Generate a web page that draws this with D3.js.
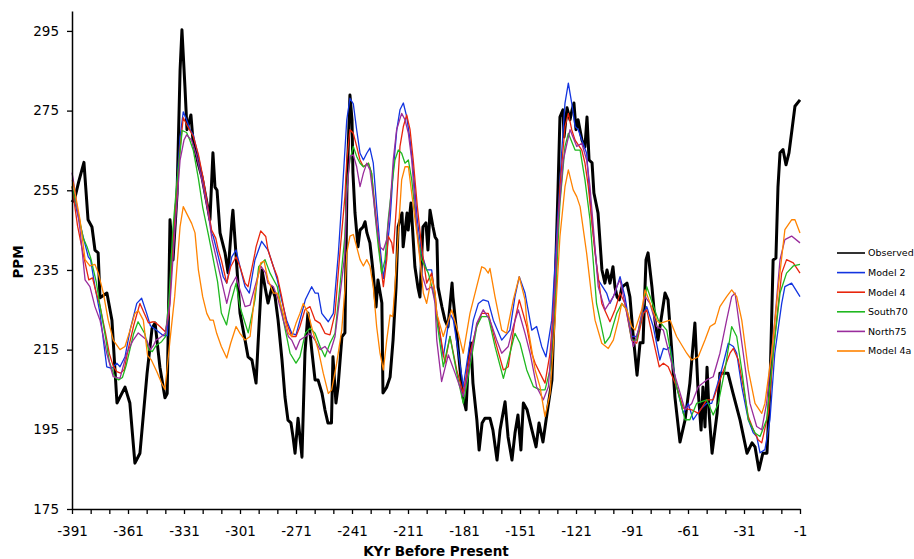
<!DOCTYPE html>
<html>
<head>
<meta charset="utf-8">
<script src="https://cdn.jsdelivr.net/npm/d3@7"></script>
<style>
  html, body { margin: 0; padding: 0; background: #fff; }
  svg { display: block; font-family: "DejaVu Sans", Verdana, sans-serif; }
</style>
</head>
<body>
<svg id="chart" width="914" height="559"></svg>
<script>
// ---------- data (kyr before present, ppm) ----------
const seriesNames = ["Observed", "Model 2", "Model 4", "South70", "North75", "Model 4a"];
const seriesColors = ["#000000", "#1234e0", "#e8250c", "#1fb81f", "#992c9c", "#ff8300"];

const yTickValues = [175, 195, 215, 235, 255, 275, 295];
const xTickLabels = [-391, -361, -331, -301, -271, -241, -211, -181, -151, -121, -91, -61, -31, -1];

const observed = [
[-391,252],[-389.5,253],[-387.5,257],[-384.6,262],[-382.4,247.6],[-380.3,245.8],[-378.7,240],[-377,239.3],[-376,228],[-372.3,229.2],[-369.6,222.4],[-366.9,201.6],[-362.6,205.6],[-360,201.6],[-357.3,186.5],[-354.6,189],[-350.8,209],[-348.1,220.4],[-346.5,221.7],[-343.9,210.6],[-341.2,202.9],[-340,204],[-338.5,247.6],[-336.9,237.5],[-334.7,254.3],[-333.1,285.2],[-332.1,295.3],[-330.5,281],[-329.4,270.2],[-327.3,273.9],[-326.2,267.6],[-323.5,261.9],[-321.4,258.4],[-318.7,251.8],[-317.1,247.6],[-315.5,264.4],[-314.4,255.8],[-313.3,255],[-311.7,244.3],[-309,239.3],[-307.4,234.3],[-305.3,247.6],[-304.8,250],[-303.2,239.3],[-301,224.2],[-298.3,217.4],[-296.7,213.2],[-294.6,212.4],[-292.4,206.6],[-291.3,216.7],[-289.2,235],[-287.6,230.7],[-286,226.7],[-283.9,230.7],[-282.2,228.2],[-280.6,222.4],[-278.5,212.4],[-276.9,203.1],[-275.3,197.3],[-273.7,196.6],[-272.6,193.1],[-271.5,189],[-269.9,197.8],[-267.8,188],[-266.2,214.2],[-264.6,224.2],[-262.4,214.2],[-260.8,207.4],[-259.2,207.4],[-257.1,204.1],[-255.5,199.9],[-253.9,196.6],[-252,196.6],[-251.2,213.2],[-249.6,201.6],[-248.5,205.6],[-246.4,218.2],[-244.8,219.2],[-243.7,255.8],[-242.1,278.9],[-241,272.7],[-240.5,259.4],[-239.4,249.3],[-237.8,240.8],[-236.7,245],[-235.1,245.8],[-234,247.1],[-233,244.3],[-231.4,241.8],[-229.8,235],[-228.1,225.7],[-227.1,232.5],[-225,226.7],[-224.4,204.1],[-222.4,205.6],[-220.6,208.1],[-219,217.4],[-217.4,230.7],[-216.3,245.8],[-214.2,249.3],[-213.6,240.8],[-211.5,249.3],[-210.9,245],[-209.4,251.8],[-208.3,243.3],[-207.3,235.8],[-205.7,230.7],[-204.6,228.2],[-203,245.8],[-201.4,246.8],[-200.3,240],[-199.2,250],[-197.6,245.8],[-196.5,243.3],[-195.5,242.5],[-194.9,230.7],[-192.8,225.7],[-191.2,222.4],[-189.6,220.7],[-187.4,231.7],[-186.9,228.2],[-184.7,218.2],[-183.1,209.9],[-181.5,203.1],[-179.9,199.9],[-178.9,209.9],[-177.3,216.7],[-176.2,206.6],[-174.1,197.3],[-172.9,189.8],[-171.3,196.6],[-169.8,197.8],[-167.1,197.8],[-165.5,194.8],[-163.3,187.3],[-161.7,194.8],[-159,201.9],[-157.4,193.1],[-155.3,187.3],[-153.7,194],[-152.1,198.6],[-150.5,189.8],[-149.2,201.6],[-147.2,199.9],[-144.6,194.8],[-142.4,190.6],[-140.8,196.6],[-138.7,191.8],[-136.5,199.1],[-133.9,207.4],[-132.2,230.7],[-130.6,255.8],[-129.6,273.4],[-128,275.2],[-127.4,268.4],[-125.8,275.7],[-124.2,272.7],[-123.1,275.2],[-122.1,276.9],[-121,270.2],[-119.9,272.7],[-117.8,267.6],[-116.2,265.9],[-115.1,273.4],[-114,262.6],[-112.4,261.9],[-111.4,254.3],[-109.2,249.3],[-107.1,235],[-105.5,231.7],[-104.4,235],[-102.8,231.7],[-101.2,235.8],[-100.1,230.7],[-99,228.2],[-97.8,227.5],[-96.4,230.7],[-93.7,231.7],[-92.1,228.2],[-90.5,219.2],[-88.3,208.6],[-86.7,216.7],[-85.1,216.7],[-83.5,237.5],[-82.4,239.3],[-80.3,230.7],[-78.7,222.4],[-77.1,217.4],[-74.9,224.2],[-73.3,229.2],[-71.7,227.5],[-69.6,214.2],[-68,203.1],[-65.3,191.8],[-62.6,197.3],[-60,206.6],[-57.3,221.7],[-55.7,205.6],[-54,194.8],[-53,205.6],[-51.9,195.6],[-50.8,210.6],[-49.7,199.1],[-48.1,189],[-45.4,199.1],[-43.9,209.1],[-39.6,209.1],[-36.9,204.1],[-33.1,197.3],[-29.4,189],[-26.7,191.6],[-25.1,190.6],[-23,184.8],[-20.9,189],[-18.7,189],[-17.1,205.6],[-15.4,237.5],[-13.9,238],[-12.8,255.8],[-11.7,264.4],[-10.1,265.2],[-8.5,261.4],[-6.9,264.4],[-5.3,270.2],[-3.7,276.1],[-1,277.7]
];

const model2 = [
[-391,255],[-388,249],[-385,243.3],[-382.3,238.3],[-381,237.5],[-378.7,230.8],[-376,224.1],[-372.4,210.7],[-369.7,210.3],[-367,211.6],[-365.3,210.7],[-362.6,213.2],[-359.9,219.9],[-356.3,226.6],[-353.7,227.9],[-351,224.1],[-349,221],[-346,220],[-342,218.5],[-340,218.5],[-339.4,224],[-337.6,237.5],[-334.9,255.9],[-333.1,268.4],[-331.4,274.7],[-329.6,272.7],[-327.8,270.2],[-326,268.9],[-323.3,263.5],[-320.7,257.6],[-318,250.1],[-316.2,244.2],[-315.3,243.4],[-312.6,238.3],[-310,233.3],[-308.1,231.7],[-305.4,238.3],[-303.1,240],[-301,235.8],[-298.3,230.8],[-296,229.2],[-293,237.5],[-289.4,242.2],[-286,240],[-283.1,235.8],[-281,232.5],[-278.7,227.5],[-276,222.4],[-273.3,219.1],[-271,218.7],[-268.9,222.4],[-266,227.5],[-262.6,230.8],[-260.8,229.2],[-259.1,229.2],[-257.2,224.1],[-253.7,222],[-251,224.1],[-248.3,239.2],[-246,255.9],[-243.8,272.7],[-242.1,278.1],[-240.3,276.7],[-238.5,270.2],[-236.7,264.3],[-234.9,262.6],[-233.1,264.3],[-231.4,265.6],[-229.6,261.8],[-227.8,250.9],[-226,240.8],[-224.2,232.9],[-222.4,239.2],[-220.6,247.6],[-218.9,260.1],[-217,270.2],[-215.3,275.2],[-213.5,276.9],[-211.7,273.5],[-209.9,267.6],[-208.2,260.1],[-206,247.6],[-203.7,239.2],[-201,235],[-198.3,235],[-195.6,224.1],[-192.1,213.2],[-188.5,224.1],[-186.7,222.4],[-184,214.1],[-181.4,205.7],[-178.7,214.1],[-176,222.4],[-173.3,226.6],[-170.7,227.5],[-168,227.1],[-165.3,222.4],[-160.8,217.4],[-156.4,219.9],[-153.7,228.3],[-151.4,233.3],[-148.3,229.2],[-144.7,219.9],[-142.1,220.8],[-139.4,215.8],[-137.1,213.2],[-134,222.4],[-131.4,243.4],[-128.7,264.3],[-126.9,276.9],[-125.1,281.9],[-123.3,276.9],[-121.5,271],[-119.8,270.2],[-117.9,267.6],[-115.3,264.3],[-112.6,247.6],[-109.1,232.5],[-104.6,229.2],[-102.8,226.6],[-100.1,229.2],[-97.4,233.3],[-94.8,228.3],[-91.2,218.3],[-88.5,218.3],[-84.9,224.1],[-83.1,225.8],[-79.6,220.8],[-76.1,212.4],[-74.2,215.3],[-72.4,215],[-70.6,215.8],[-67.1,205.7],[-63.5,199],[-60.9,201.5],[-58.2,197.4],[-54.6,199.9],[-51,201.5],[-48.3,201.5],[-45.6,205.7],[-43,209.9],[-39.4,216.6],[-36.7,215.8],[-34.9,214.1],[-32.2,205.7],[-28.7,197.4],[-26,194.1],[-24.2,193.2],[-22.4,189.1],[-19.8,189.9],[-17.1,197.4],[-14.5,214.1],[-10.8,226.6],[-9.1,230.8],[-5.5,231.7],[-1,228.3]
];

const model4 = [
[-391,256],[-388,246],[-385,239],[-382,232.5],[-380,233],[-378,229.2],[-376,226],[-373,219],[-371,214],[-369,211],[-367,209.5],[-365,209.1],[-363,210],[-361,214.9],[-358,221],[-354.6,226.6],[-350,221.7],[-347.4,222],[-346,221.7],[-343.9,220.8],[-341,219.5],[-339,224],[-337.6,236],[-335,254],[-333,266],[-331.4,273.2],[-329.6,271.5],[-327.8,270],[-326,268.5],[-323.3,264],[-320.7,258],[-318,250],[-316.2,245],[-314,243],[-312.6,240],[-311,237.5],[-308.1,231.7],[-306,235.8],[-303.1,238.3],[-301,235.8],[-298.3,231.7],[-296.7,230.8],[-293,239.2],[-292.4,240.8],[-289.9,244.8],[-287.2,243.4],[-286,240],[-283.1,235.8],[-281,233.3],[-278.7,228.3],[-276,221.6],[-273.3,218.3],[-271,218.3],[-268.9,220.8],[-266.2,225],[-263.5,225.8],[-260.8,222.4],[-258.1,221.6],[-255.5,219.1],[-252.8,218.7],[-250.1,224.1],[-247.5,239.2],[-244.8,253.4],[-243.8,262.6],[-242.1,270.2],[-240.3,269.3],[-238.5,266],[-236.7,262.6],[-234.9,260.9],[-232.2,261.8],[-230.5,259.3],[-228.7,250.9],[-226.9,242.6],[-225.1,234.2],[-224.2,230.8],[-222.4,237.6],[-221.6,243.5],[-219.7,241.8],[-218.9,239.2],[-217.1,251.8],[-215.3,266],[-213.5,271],[-211.7,273.9],[-209.9,270.2],[-208.2,262.6],[-206,250.9],[-203.7,240.8],[-201,231.7],[-198.3,234.2],[-196.5,229.2],[-195.6,224.1],[-191.2,211.6],[-188.5,218.3],[-184.9,209.9],[-181.4,204],[-177.8,214.1],[-174.2,220.8],[-171.5,224.1],[-168,224.1],[-164.4,217.4],[-159.9,209.9],[-157.3,210.7],[-153.7,222.4],[-151.4,227.5],[-147.4,220.8],[-144.7,214.1],[-142.9,211.6],[-140.3,209.1],[-137.6,206.6],[-134.9,214.1],[-132.2,230.8],[-129.6,255.9],[-126.9,271],[-125.1,274.3],[-123.3,270.2],[-121.5,267.6],[-117.9,265.1],[-116.2,261.8],[-114.4,255.9],[-112.6,247.6],[-110.8,239.2],[-107.2,226.6],[-102.8,222],[-100.1,225],[-97.4,229.2],[-94.8,226.6],[-91.2,217.4],[-88.5,216.6],[-84.9,224.1],[-83.1,225],[-79.6,217.4],[-76.4,210.7],[-74.2,211.6],[-71.6,210.7],[-67.1,205.7],[-63.5,200.3],[-59,199.9],[-55.5,199],[-51,202.4],[-47.5,202.4],[-43.9,207.4],[-38.5,214.1],[-36.7,215.3],[-34,212.4],[-31.4,205.7],[-28.7,198.2],[-26,194.9],[-23.4,192.4],[-21.5,191.6],[-18,199],[-14.5,218.3],[-10.8,234.2],[-8.2,237.6],[-4.6,236.8],[-1,234.2]
];

const south70 = [
[-391,256],[-388,250],[-385,243],[-383,240.9],[-381,238],[-378,232],[-376,226],[-373,218],[-371,212],[-368,208],[-366,207.4],[-364,208],[-362,211],[-360,215],[-358,219],[-355.6,222],[-352,219],[-350,215],[-348,214.5],[-346,216],[-343,217],[-341,218.2],[-339,228],[-337,245],[-335,256],[-333,265],[-332,270],[-329.6,269.5],[-327.8,267.5],[-326,265],[-323.3,258],[-321,250.8],[-318,244],[-316,239.3],[-313,232],[-311,224.2],[-308.2,221.2],[-306,226.7],[-303.1,231.7],[-301,225.7],[-296.6,219.2],[-293,227.5],[-291,235.8],[-287.6,237.6],[-284.9,234.2],[-281,230.8],[-277.8,222.4],[-274.2,214.1],[-271,211.6],[-268.9,213.2],[-266,219.1],[-263.5,220.4],[-260.8,219.1],[-258.1,215.8],[-255.5,213.2],[-252.8,216.6],[-250.1,219.1],[-247.5,230.8],[-244.8,243.5],[-243.8,255.9],[-242.1,262.6],[-240.3,266],[-238.5,263.5],[-236.7,261.8],[-234.9,260.9],[-232.2,261.8],[-230.5,259.3],[-228.7,249.2],[-226.9,240.8],[-225.1,234.2],[-223.3,237.6],[-221.6,247.6],[-219.7,255.9],[-218,262.6],[-216.2,265.1],[-214.4,264.3],[-212.6,261.8],[-210.8,262.6],[-209,257.6],[-206,244.3],[-203.7,237.6],[-202,236],[-200.1,234.2],[-196.5,227.5],[-195.6,222.4],[-192.1,210.7],[-188.5,218.3],[-184.9,209.1],[-181.4,201.5],[-177.8,210.7],[-174.2,220.8],[-171.5,223.3],[-168,223.3],[-164.4,215.8],[-159.9,207.8],[-156.4,214.1],[-153.7,219.1],[-151,216.6],[-147.4,209.9],[-143.8,205.7],[-140.3,204.9],[-137.6,204.9],[-134.9,209.9],[-132.2,226.6],[-129.6,251.7],[-126.9,266],[-125.1,269.3],[-121.5,265.1],[-118.8,265.1],[-116.2,257.6],[-113.5,247.6],[-110,226.6],[-105.5,216.6],[-102.8,218.3],[-99.2,224.1],[-96.5,226.6],[-93.8,225],[-91.2,217.4],[-88.5,217.4],[-84.9,225.8],[-83.1,230.8],[-76.9,222.4],[-72.4,219.9],[-67.1,205.7],[-62.6,197.4],[-60,197.4],[-56.4,201.5],[-51,202.4],[-47.5,198.6],[-44.8,201.5],[-41.2,209.9],[-37.6,220.8],[-34.9,218.3],[-32.2,209.9],[-28.7,197.4],[-25.1,194.1],[-22.4,193.2],[-18.9,197.4],[-15.4,214.1],[-11.7,229.2],[-8.2,234.2],[-4.6,236],[-1,236.4]
];

const north75 = [
[-391,259.4],[-390.3,257.6],[-386.7,245.1],[-384,232.5],[-381.4,230.8],[-378.7,225.8],[-376,222.4],[-372.4,214.1],[-368.9,208.2],[-365.3,207.8],[-361.7,214.1],[-358.2,217.4],[-355.5,219.2],[-351,217.4],[-349,215],[-347.4,216],[-346,217.4],[-343.9,218],[-341,219.1],[-338.5,226.6],[-336,244.3],[-333.1,262.6],[-331,267.6],[-329.6,268.9],[-326.9,267.6],[-324.2,263.5],[-321,256.7],[-318,249.2],[-316,242.6],[-313.5,237.6],[-311,232.5],[-308.1,226.6],[-306,230.8],[-303.1,233.3],[-301,230],[-298.3,225.8],[-295.6,226.2],[-293,230.8],[-289.9,236],[-287.2,234.2],[-286,231.7],[-283.1,230.8],[-281,228.3],[-277.8,222.4],[-275.1,218.3],[-273.3,217.4],[-271,215],[-268.9,217.4],[-266,218.3],[-263.5,219.1],[-260.8,217.4],[-258.1,215],[-255.5,215.8],[-252.8,214.1],[-250.1,218.3],[-247.5,228.3],[-244.8,239.2],[-243.8,254.2],[-242.1,263.5],[-240.3,263.9],[-238.5,260.9],[-236.7,255.9],[-234.9,259.3],[-233.1,261.8],[-231.4,260.1],[-229.6,253.4],[-227.8,245.9],[-226,240.8],[-224.2,240],[-222.4,242.6],[-220.6,250.9],[-218.9,262.6],[-217.1,270.2],[-214.4,274.3],[-212.6,272.7],[-210.8,269.3],[-209,262.6],[-206.3,245.9],[-203.7,234.2],[-201,230],[-198.3,230.8],[-196.5,226.6],[-195.6,217.4],[-193,207],[-189.4,213.7],[-185.8,209.1],[-181.4,203.2],[-177.8,212.4],[-174.2,221.6],[-170.7,225],[-167.1,222.4],[-163.5,217.4],[-160.8,214.1],[-157.3,215.8],[-154.6,220.8],[-151.9,225],[-148.3,219.1],[-145.6,214.1],[-142.1,205.7],[-138.5,202.4],[-135.8,205.7],[-133.2,222.4],[-130.5,247.6],[-127.8,262.6],[-124.2,270.2],[-120.6,266],[-117.9,266.8],[-115.3,262.6],[-113.5,255.9],[-109.1,230.8],[-105.5,225],[-101,228.3],[-99.2,230.8],[-97.4,232.5],[-94.8,226.6],[-90.3,215.8],[-87.6,219.9],[-84,228.3],[-81.4,226.6],[-77.8,220.8],[-74.2,219.9],[-68.9,209.9],[-62.6,199.9],[-59,201.5],[-55.5,205.7],[-51,207.4],[-47.5,208.2],[-43.9,214.1],[-40.3,222.4],[-37.6,228.3],[-35.8,229.2],[-31.4,214.1],[-27.8,201.5],[-24.2,195.7],[-21.5,194.9],[-18.9,201.5],[-14.5,222.4],[-11.7,237.6],[-9.1,242.6],[-5.5,243.5],[-1,241.8]
];

const model4a = [
[-391,257.5],[-390.3,256.8],[-386.7,247.6],[-384,237.6],[-381.4,236],[-378.7,236.4],[-376.9,234.2],[-374.2,229.2],[-371.6,222.4],[-368.9,217.4],[-365.3,215],[-362.6,215.8],[-359.9,219.9],[-357.3,224.1],[-355.5,224.8],[-352.8,222.4],[-350.5,213.5],[-348.5,212.4],[-345.6,209.5],[-343,206.6],[-341.2,205],[-338.5,217.4],[-336,228.3],[-333.1,245.9],[-331.4,250.9],[-329.6,249.2],[-326.9,246.7],[-325.1,244.3],[-323.3,235],[-321,228.3],[-318.8,224.1],[-317,222.4],[-315.3,222.4],[-313.5,219.1],[-311,215.8],[-308.1,212.9],[-306,216.6],[-303.1,220.8],[-301,219.1],[-298.3,217.4],[-295.6,218.3],[-293,229.2],[-289.9,236.8],[-288.1,237.2],[-286,232.5],[-283.1,229.2],[-281,229.2],[-277.8,224.1],[-275.1,219.1],[-273.3,218.3],[-271,221.6],[-268.9,224.1],[-267.1,226.6],[-264.5,224.1],[-261.7,219.1],[-259.1,215],[-256.4,209.1],[-253.7,204],[-251.9,204.9],[-249.2,211.6],[-246.5,219.9],[-244.8,230],[-243.8,239.2],[-242.1,243.5],[-240.3,243.9],[-238.5,240.8],[-236.7,237.6],[-234.9,236],[-233.1,237.6],[-231.4,236],[-229.6,230.8],[-227.8,220.8],[-226,214.1],[-224.2,209.9],[-222.4,217.4],[-220.6,223.7],[-219.2,223.3],[-218,230.8],[-216.2,244.3],[-214.4,257.6],[-212.6,260.9],[-210.8,260.9],[-209,254.2],[-206.3,244.3],[-204.6,237.6],[-202.8,229.2],[-201,226.6],[-198.3,233.3],[-196.5,229.2],[-195.6,224.1],[-192.1,218.3],[-187.6,225],[-184,219.1],[-181.4,214.1],[-177.8,224.1],[-174.2,230.8],[-171.5,235.8],[-169.8,235.4],[-168,234.2],[-167.1,235.4],[-164.4,228.3],[-160.8,219.9],[-158.2,219.1],[-154.6,227.5],[-151.4,233.3],[-148.3,227.5],[-147.4,222.4],[-142.9,209.9],[-140.3,205.7],[-137.6,198.2],[-134.9,204],[-132.2,222.4],[-129.6,243.4],[-126.9,255.9],[-125.1,260.1],[-122.5,255.1],[-120.6,253.4],[-118.8,250.9],[-115.3,239.2],[-112.6,228.3],[-110.8,222.4],[-107.2,216.6],[-103.7,215.3],[-101,217.4],[-98.3,222.4],[-96.5,226.6],[-93.8,225],[-91.2,220.8],[-89.4,219.9],[-85.8,225],[-84,230],[-77.8,222.4],[-76.1,221.6],[-70.6,222.4],[-67.1,218.3],[-61.7,214.1],[-59,212.4],[-55.5,213.2],[-51.9,217.4],[-49.2,220.8],[-46.5,221.6],[-43.9,225.8],[-40.3,228.3],[-37.6,230],[-34.9,228.3],[-32.2,222.4],[-28.7,209.9],[-25.1,201.5],[-21.5,199],[-19.8,201.5],[-16.2,214.1],[-12.6,230.8],[-9.1,245.1],[-5.5,247.6],[-3.7,247.6],[-1,244.3]
];

const seriesData = [observed, model2, model4, south70, north75, model4a];

// ---------- chart ----------
const svg = d3.select("#chart");

const x = d3.scaleLinear().domain([-391, -1]).range([72, 800]);
const y = d3.scaleLinear().domain([175, 300]).range([509, 11]);

const xMinor = d3.range(-391, 0, 10);

// series (drawn in legend order, Observed first)
const line = d3.line().x(d => x(d[0])).y(d => y(d[1]));
svg.append("g").attr("class", "series")
  .selectAll("path")
  .data(seriesData)
  .join("path")
  .attr("d", d => line(d))
  .attr("fill", "none")
  .attr("stroke", (d, i) => seriesColors[i])
  .attr("stroke-width", (d, i) => i === 0 ? 3 : 1.3)
  .attr("stroke-linejoin", "round");

// axes
const xAxis = d3.axisBottom(x)
  .tickValues(xMinor)
  .tickSize(5)
  .tickSizeOuter(0)
  .tickPadding(12)
  .tickFormat(v => xTickLabels.includes(v) ? String(v) : "");
const gx = svg.append("g").attr("transform", `translate(0,${y(175)})`).call(xAxis);

const yAxis = d3.axisLeft(y)
  .tickValues(yTickValues)
  .tickSize(5)
  .tickSizeOuter(0)
  .tickPadding(8)
  .tickFormat(d3.format("d"));
const gy = svg.append("g").attr("transform", `translate(${x(-391)},0)`).call(yAxis);

[gx, gy].forEach(g => {
  g.selectAll(".domain").attr("stroke", "#000").attr("stroke-width", 1.5);
  g.selectAll(".tick line").attr("stroke", "#000").attr("stroke-width", 1.3);
  g.selectAll("text").attr("fill", "#000").style("font-size", "13.5px")
    .style("font-family", '"DejaVu Sans", Verdana, sans-serif');
});

// axis titles
svg.append("text")
  .attr("x", 436).attr("y", 556)
  .attr("text-anchor", "middle")
  .style("font-size", "13.5px").style("font-weight", "bold")
  .text("KYr Before Present");

svg.append("text")
  .attr("transform", "translate(23,262) rotate(-90)")
  .attr("text-anchor", "middle")
  .style("font-size", "13.5px").style("font-weight", "bold")
  .text("PPM");

// legend
const legend = svg.append("g").attr("transform", "translate(837,253)");
const items = legend.selectAll("g").data(seriesNames).join("g")
  .attr("transform", (d, i) => `translate(0,${i * 19.6})`);
items.append("line")
  .attr("x1", 0).attr("x2", 28).attr("y1", 0).attr("y2", 0)
  .attr("stroke", (d, i) => seriesColors[i])
  .attr("stroke-width", 1.6);
items.append("text")
  .attr("x", 31).attr("y", 0).attr("dy", "0.35em")
  .style("font-size", "9.5px")
  .text(d => d);
</script>
</body>
</html>
